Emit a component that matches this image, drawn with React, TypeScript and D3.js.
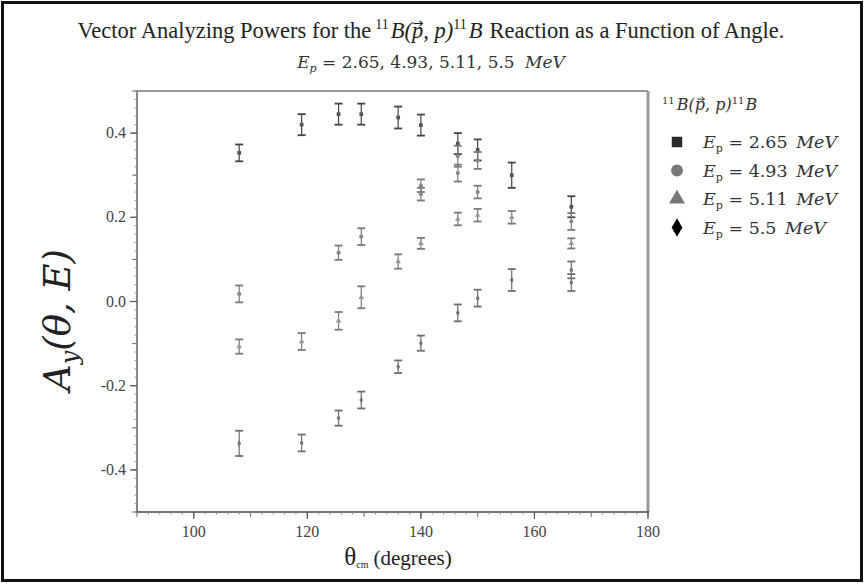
import React, { useLayoutEffect, useRef, useState } from "react";
import * as d3 from "d3";

const angles265 = [108, 119, 125.5, 129.5, 136, 140, 146.5, 150, 156, 166.5];
const ay265 = [0.353, 0.42, 0.445, 0.445, 0.437, 0.419, 0.375, 0.36, 0.3, 0.225];
const err265 = [0.02, 0.025, 0.025, 0.025, 0.026, 0.025, 0.025, 0.025, 0.03, 0.025];

const angles493 = [108, 125.5, 129.5, 140, 140, 146.5, 146.5, 150, 150, 166.5];
const ay493 = [0.018, 0.116, 0.154, 0.275, 0.255, 0.345, 0.305, 0.335, 0.26, 0.19];
const err493 = [0.02, 0.017, 0.02, 0.015, 0.015, 0.025, 0.02, 0.02, 0.015, 0.02];

const angles511 = [108, 119, 125.5, 129.5, 136, 140, 146.5, 150, 156, 166.5];
const ay511 = [-0.107, -0.095, -0.046, 0.01, 0.095, 0.138, 0.196, 0.205, 0.2, 0.138];
const err511 = [0.017, 0.02, 0.021, 0.026, 0.017, 0.013, 0.015, 0.015, 0.015, 0.012];

const angles55 = [108, 119, 125.5, 129.5, 136, 140, 146.5, 150, 156, 166.5, 166.5];
const ay55 = [-0.337, -0.336, -0.277, -0.234, -0.155, -0.099, -0.027, 0.008, 0.051, 0.075, 0.045];
const err55 = [0.03, 0.02, 0.018, 0.02, 0.015, 0.018, 0.02, 0.02, 0.026, 0.02, 0.02];

const energies = ["2.65", "4.93", "5.11", "5.5"];
const xTickValues = [100, 120, 140, 160, 180];
const yTickValues = [-0.4, -0.2, 0.0, 0.2, 0.4];

const series = [
  { e: energies[0], shape: "square", color: "#2a2a2a", mk: "#555", bar: "#444", x: angles265, y: ay265, err: err265 },
  { e: energies[1], shape: "circle", color: "#777", mk: "#888", bar: "#7a7a7a", x: angles493, y: ay493, err: err493 },
  { e: energies[2], shape: "triangle", color: "#777", mk: "#999", bar: "#7a7a7a", x: angles511, y: ay511, err: err511 },
  { e: energies[3], shape: "diamond", color: "#000", mk: "#777", bar: "#6f6f6f", x: angles55, y: ay55, err: err55 },
];

const L = 137, R = 648, T = 91, B = 512;
const xs = d3.scaleLinear().domain([90, 180]).range([L, R]);
const ys = d3.scaleLinear().domain([-0.5, 0.5]).range([B, T]);

const symType: Record<string, d3.SymbolType> = {
  square: d3.symbolSquare,
  circle: d3.symbolCircle,
  triangle: d3.symbolTriangle,
  diamond: d3.symbolDiamond,
};

function marker(shape: string, size: number) {
  const area = shape === "diamond" ? size * 0.9 : size;
  return d3.symbol().type(symType[shape]).size(area)() as string;
}

const serif = "'Liberation Serif', 'Times New Roman', serif";
const math = "'DejaVu Serif', serif";

type Box = { x: number; y: number; w: number; h: number } | null;

function VecArrow({ box, color, sw }: { box: Box; color: string; sw: number }) {
  if (!box) return null;
  const x0 = box.x + box.w * 0.25;
  const x1 = box.x + box.w * 0.95;
  const y = box.y + box.h * 0.22;
  return (
    <g stroke={color} strokeWidth={sw} fill="none">
      <line x1={x0} y1={y} x2={x1} y2={y} />
      <path d={`M${x1 - 3},${y - 2.5} L${x1},${y} L${x1 - 3},${y + 2.5}`} />
    </g>
  );
}

export default function App() {
  const xSmall = d3.range(90, 180.01, 2);
  const xMid = d3.range(90, 180.01, 10);
  const ySmall = d3.range(-0.5, 0.501, 0.02);
  const yMid = d3.range(-0.5, 0.501, 0.1);

  const tRef = useRef<SVGTSpanElement>(null);
  const lRef = useRef<SVGTSpanElement>(null);
  const [tBox, setTBox] = useState<Box>(null);
  const [lBox, setLBox] = useState<Box>(null);

  useLayoutEffect(() => {
    const m = (el: SVGTSpanElement | null): Box => {
      if (!el) return null;
      const b = (el as any).getBBox();
      return { x: b.x, y: b.y, w: b.width, h: b.height };
    };
    setTBox(m(tRef.current));
    setLBox(m(lRef.current));
  }, []);

  return (
    <svg width={866} height={584} style={{ position: "fixed", left: 0, top: 0, background: "#fff" }}>
      <rect x={0} y={0} width={866} height={584} fill="#fff" />
      <rect x={2.5} y={2.5} width={859} height={578} fill="none" stroke="#111" strokeWidth={3} />

      {/* Title */}
      <text x={431} y={38} textAnchor="middle" fontSize={22.5} fill="#222" fontFamily={serif}>
        Vector Analyzing Powers for the
        <tspan dx={4} fontSize={14} dy={-9}>11</tspan>
        <tspan fontStyle="italic" dy={9} dx={2}>B(</tspan>
        <tspan fontStyle="italic" ref={tRef}>p</tspan>
        <tspan fontStyle="italic">, p)</tspan>
        <tspan fontSize={14} dy={-9}>11</tspan>
        <tspan fontStyle="italic" dy={9} dx={2}>B</tspan>
        <tspan dx={7}>Reaction as a Function of Angle.</tspan>
      </text>
      <VecArrow box={tBox} color="#222" sw={1.1} />
      <text x={431} y={68} textAnchor="middle" fontSize={17} fill="#333" fontFamily={math}>
        <tspan fontStyle="italic">E</tspan>
        <tspan fontStyle="italic" fontSize={11} dy={4}>p</tspan>
        <tspan dy={-4}> = 2.65, 4.93, 5.11, 5.5 </tspan>
        <tspan fontStyle="italic" dx={5}>MeV</tspan>
      </text>

      {/* Plot frame */}
      <line x1={L} y1={T} x2={R} y2={T} stroke="#999" strokeWidth={2} />
      <line x1={R} y1={T} x2={R} y2={B} stroke="#999" strokeWidth={3} />
      <line x1={L} y1={T} x2={L} y2={B} stroke="#888" strokeWidth={2} />
      <line x1={L} y1={B} x2={R + 1} y2={B} stroke="#444" strokeWidth={1.5} />

      {/* X ticks */}
      {xSmall.map((v) => (
        <line key={"xs" + v} x1={xs(v)} x2={xs(v)} y1={B} y2={B + 2.5} stroke="#888" strokeWidth={1} />
      ))}
      {xMid.map((v) => (
        <line key={"xm" + v} x1={xs(v)} x2={xs(v)} y1={B} y2={B + 5} stroke="#777" strokeWidth={1} />
      ))}
      {xTickValues.map((v) => (
        <g key={"xt" + v}>
          <line x1={xs(v)} x2={xs(v)} y1={B} y2={B + 7} stroke="#555" strokeWidth={1.2} />
          <text x={xs(v)} y={B + 25} textAnchor="middle" fontSize={16} fill="#444" fontFamily={serif}>{v}</text>
        </g>
      ))}

      {/* Y ticks */}
      {ySmall.map((v, i) => (
        <line key={"ys" + i} x1={L - 2.5} x2={L} y1={ys(v)} y2={ys(v)} stroke="#999" strokeWidth={1} />
      ))}
      {yMid.map((v, i) => (
        <line key={"ym" + i} x1={L - 5} x2={L} y1={ys(v)} y2={ys(v)} stroke="#777" strokeWidth={1} />
      ))}
      {yTickValues.map((v) => (
        <g key={"yt" + v}>
          <line x1={L - 7} x2={L} y1={ys(v)} y2={ys(v)} stroke="#555" strokeWidth={1.2} />
          <text x={L - 11} y={ys(v) + 5} textAnchor="end" fontSize={16} fill="#444" fontFamily={serif}>{v.toFixed(1)}</text>
        </g>
      ))}

      {/* Axis labels */}
      <text x={398} y={565} textAnchor="middle" fill="#222" fontFamily={serif}>
        <tspan fontSize={25}>θ</tspan>
        <tspan fontSize={10} dy={3}>cm</tspan>
        <tspan fontSize={21} dy={-3} dx={5}>(degrees)</tspan>
      </text>
      <text transform="translate(70,320) rotate(-90)" textAnchor="middle" fill="#222" fontStyle="italic" fontFamily={math}>
        <tspan fontSize={37}>A</tspan>
        <tspan fontSize={24} dy={8}>y</tspan>
        <tspan fontSize={37} dy={-8}>(θ, E)</tspan>
      </text>

      {/* Data */}
      {series.map((s, si) => (
        <g key={"s" + si}>
          {s.x.map((a, i) => {
            const cx = xs(a);
            const cy = ys(s.y[i]);
            const y1 = ys(s.y[i] + s.err[i]);
            const y2 = ys(s.y[i] - s.err[i]);
            return (
              <g key={i}>
                <line x1={cx} x2={cx} y1={y1} y2={y2} stroke={s.bar} strokeWidth={1.2} />
                <line x1={cx - 4} x2={cx + 4} y1={y1} y2={y1} stroke={s.bar} strokeWidth={1.8} />
                <line x1={cx - 4} x2={cx + 4} y1={y2} y2={y2} stroke={s.bar} strokeWidth={1.8} />
                <path d={marker(s.shape, 14)} transform={`translate(${cx},${cy})`} fill={s.mk} />
              </g>
            );
          })}
        </g>
      ))}

      {/* Legend */}
      <text x={662} y={110} fontSize={16} fill="#333" fontFamily={math}>
        <tspan fontSize={10} dy={-6}>11</tspan>
        <tspan fontStyle="italic" dy={6} dx={2}>B(</tspan>
        <tspan fontStyle="italic" ref={lRef}>p</tspan>
        <tspan fontStyle="italic">, p)</tspan>
        <tspan fontSize={10} dy={-6}>11</tspan>
        <tspan fontStyle="italic" dy={6} dx={1}>B</tspan>
      </text>
      <VecArrow box={lBox} color="#333" sw={1} />
      {series.map((s, i) => {
        const cy = 142 + i * 28.5;
        return (
          <g key={"lg" + i}>
            <path d={marker(s.shape, 110)} transform={`translate(677,${cy})`} fill={s.color} />
            <text x={703} y={cy + 6} fontSize={17.5} fill="#333" fontFamily={math}>
              <tspan fontStyle="italic">E</tspan>
              <tspan fontSize={11} dy={4}>p</tspan>
              <tspan dy={-4}> = {s.e} </tspan>
              <tspan fontStyle="italic" dx={3}>MeV</tspan>
            </text>
          </g>
        );
      })}
    </svg>
  );
}
